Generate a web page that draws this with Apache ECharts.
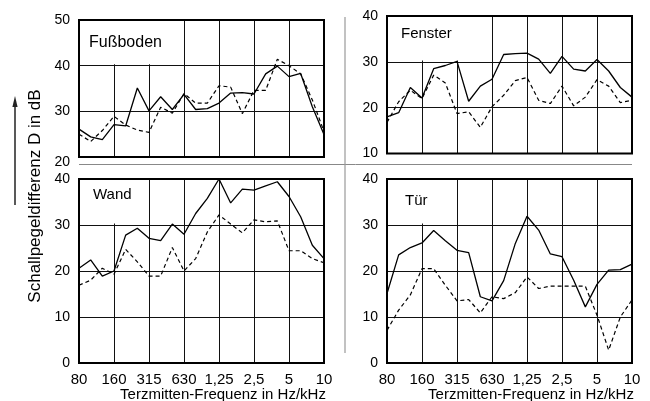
<!DOCTYPE html>
<html><head><meta charset="utf-8">
<script src="https://cdn.jsdelivr.net/npm/echarts@6/dist/echarts.min.js"></script>
<style>html,body{margin:0;padding:0;background:#fff}#c{width:650px;height:401px}</style>
</head><body><div id="c"></div>
<script>
const frequencies = ['80','100','125','160','200','250','315','400','500','630','800','1','1,25','1,6','2','2,5','3,15','4','5','6,3','8','10'];

const fussbodenSolid  = [26.1, 24.4, 23.8, 27.1, 26.8, 35.1, 30.1, 33.2, 30.4, 33.7, 30.4, 30.6, 31.8, 34.0, 34.1, 33.8, 38.2, 39.9, 37.6, 38.3, 31.0, 24.9];
const fussbodenDashed = [25.0, 23.4, 25.8, 28.9, 27.0, 25.9, 25.4, 30.9, 29.6, 33.9, 31.8, 31.8, 35.6, 35.3, 29.5, 34.6, 34.6, 41.4, 40.0, 38.2, 32.5, 25.6];

const fensterSolid  = [18.0, 18.9, 24.4, 22.1, 28.5, 29.2, 30.1, 21.4, 24.7, 26.2, 31.6, 31.8, 31.9, 30.6, 27.5, 31.2, 28.4, 28.0, 30.5, 28.0, 24.4, 22.3];
const fensterDashed = [16.8, 21.3, 23.8, 22.0, 27.1, 25.4, 18.7, 19.1, 15.7, 20.2, 22.7, 25.9, 26.6, 21.6, 20.9, 24.7, 20.4, 22.3, 26.1, 24.7, 21.1, 21.6];

const wandSolid  = [20.6, 22.4, 18.9, 20.0, 27.8, 29.3, 27.1, 26.6, 30.2, 28.0, 32.5, 35.8, 40.0, 34.8, 37.8, 37.6, 38.5, 39.4, 36.2, 31.8, 25.6, 22.7];
const wandDashed = [16.9, 18.0, 20.6, 19.3, 24.7, 22.0, 18.9, 18.9, 25.1, 20.0, 22.7, 28.5, 32.2, 30.2, 28.3, 31.1, 30.7, 30.9, 24.4, 24.4, 22.7, 21.8];

const tuerSolid  = [15.1, 23.5, 25.1, 26.1, 28.8, 26.6, 24.5, 24.0, 14.4, 13.5, 17.9, 26.0, 31.9, 28.9, 23.7, 23.1, 18.0, 12.2, 17.1, 20.2, 20.3, 21.5];
const tuerDashed = [7.1, 11.5, 14.8, 20.5, 20.5, 16.9, 13.5, 13.8, 10.9, 14.4, 14.0, 15.3, 18.7, 16.2, 16.7, 16.7, 16.7, 16.7, 10.4, 2.8, 10.0, 13.7];

const panelNames = ['Fußboden', 'Fenster', 'Wand', 'Tür'];
const yRanges = [[20, 50], [10, 40], [0, 40], [0, 40]];
const xTitle = 'Terzmitten-Frequenz in Hz/kHz';
const yTitle = 'Schallpegeldifferenz D in dB';

const FONT = '"Liberation Sans", Arial, Helvetica, sans-serif';
const solids = [fussbodenSolid, fensterSolid, wandSolid, tuerSolid];
const dashes = [fussbodenDashed, fensterDashed, wandDashed, tuerDashed];

const grids = [
  {left: 79, top: 20, width: 245, height: 137},
  {left: 387, top: 16, width: 245, height: 137.5},
  {left: 79, top: 179, width: 245, height: 184},
  {left: 387, top: 179, width: 245, height: 184}
].map(g => Object.assign(g, {show: true, borderColor: '#000', borderWidth: 2, z: 5}));

// label box: [x end index, y low, y high, label x offset, label y fraction, font size]
const labelBoxes = [
  [8, 40.3, 50, 10, '51%', 16],
  [8, 30.3, 40, 14, '41%', 15],
  [5, 30.3, 40, 14, '36%', 15],
  [5, 30.3, 40, 18, '49%', 15]
];

const xAxes = [], yAxes = [], series = [];
for (let i = 0; i < 4; i++) {
  const bottomRow = i >= 2;
  xAxes.push({
    type: 'category', gridIndex: i, data: frequencies, boundaryGap: false,
    axisLine: {show: false}, axisTick: {show: false},
    axisLabel: {show: bottomRow, interval: 2, margin: 9, color: '#000', fontSize: 15, fontFamily: FONT},
    splitLine: {show: true, interval: 2, lineStyle: {color: '#111', width: 1}}
  });
  yAxes.push({
    type: 'value', gridIndex: i, min: yRanges[i][0], max: yRanges[i][1], interval: 10,
    axisLine: {show: false}, axisTick: {show: false},
    axisLabel: {
      margin: 9, color: '#000', fontSize: 14, fontFamily: FONT,
      formatter: (v) => (i === 0 && v === 20) ? '{low|20}' : String(v),
      rich: {low: {padding: [11, 0, 0, 0], fontSize: 14, fontFamily: FONT, color: '#000'}}
    },
    splitLine: {show: true, lineStyle: {color: '#111', width: 1}}
  });
  const lb = labelBoxes[i];
  series.push({
    type: 'line', xAxisIndex: i, yAxisIndex: i, data: solids[i],
    symbol: 'none', lineStyle: {color: '#000', width: 1.3, type: 'solid'}, z: 3,
    markArea: {
      silent: true, itemStyle: {color: '#fff'},
      label: {show: true, formatter: '{b}', position: [lb[3], lb[4]], align: 'left', verticalAlign: 'middle',
              color: '#000', fontSize: lb[5], fontFamily: FONT},
      data: [[{name: panelNames[i], xAxis: 0, yAxis: lb[1]}, {xAxis: lb[0], yAxis: lb[2]}]]
    }
  });
  series.push({
    type: 'line', xAxisIndex: i, yAxisIndex: i, data: dashes[i],
    symbol: 'none', lineStyle: {color: '#000', width: 1.2, type: [4, 3]}, z: 3
  });
}

const chart = echarts.init(document.getElementById('c'), null, {renderer: 'canvas'});
chart.setOption({
  animation: false,
  backgroundColor: '#fff',
  grid: grids,
  xAxis: xAxes,
  yAxis: yAxes,
  series: series,
  graphic: [
    {type: 'line', shape: {x1: 79, y1: 164.5, x2: 632, y2: 164.5}, style: {stroke: '#888', lineWidth: 1}},
    {type: 'line', shape: {x1: 345, y1: 17, x2: 345, y2: 353}, style: {stroke: '#999', lineWidth: 1.2}},
    {type: 'line', shape: {x1: 15, y1: 205, x2: 15, y2: 104}, style: {stroke: '#222', lineWidth: 1.5}},
    {type: 'polygon', shape: {points: [[15, 96], [12.4, 107], [17.6, 107]]}, style: {fill: '#222'}},
    {type: 'text', x: 35, y: 196, rotation: Math.PI / 2,
     style: {text: yTitle, font: '17px ' + FONT, fill: '#000', textAlign: 'center', textVerticalAlign: 'middle', align: 'center', verticalAlign: 'middle'}},
    {type: 'text', x: 223, y: 395,
     style: {text: xTitle, font: '15px ' + FONT, fill: '#000', textAlign: 'center', textVerticalAlign: 'middle', align: 'center', verticalAlign: 'middle'}},
    {type: 'text', x: 531, y: 395,
     style: {text: xTitle, font: '15px ' + FONT, fill: '#000', textAlign: 'center', textVerticalAlign: 'middle', align: 'center', verticalAlign: 'middle'}}
  ]
});
</script>
</body></html>
